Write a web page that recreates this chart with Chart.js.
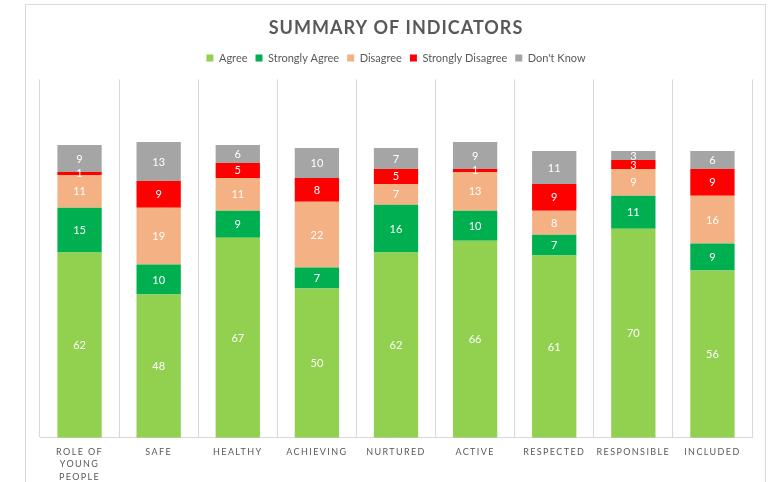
<!DOCTYPE html>
<html>
<head>
<meta charset="utf-8">
<script src="https://cdn.jsdelivr.net/npm/chart.js@4"></script>
<style>
  html, body { margin: 0; padding: 0; background: #ffffff; overflow: hidden; }
  #wrap { position: relative; width: 779px; height: 482px; overflow: hidden; }
  #frame { position: absolute; left: 25px; top: 4px; width: 739px; height: 500px; border: 1px solid #d9d9d9; pointer-events: none; }
  canvas { position: absolute; left: 0; top: 0; }
</style>
</head>
<body>
<div id="wrap">
  <canvas id="c" width="779" height="491"></canvas>
  <div id="frame"></div>
</div>
<script>
const categories = [["ROLE OF", "YOUNG", "PEOPLE"], "SAFE", "HEALTHY", "ACHIEVING", "NURTURED", "ACTIVE", "RESPECTED", "RESPONSIBLE", "INCLUDED"];
const agree            = [62, 48, 67, 50, 62, 66, 61, 70, 56];
const stronglyAgree    = [15, 10,  9,  7, 16, 10,  7, 11,  9];
const disagree         = [11, 19, 11, 22,  7, 13,  8,  9, 16];
const stronglyDisagree = [ 1,  9,  5,  8,  5,  1,  9,  3,  9];
const dontKnow         = [ 9, 13,  6, 10,  7,  9, 11,  3,  6];
const seriesNames = ["Agree", "Strongly Agree", "Disagree", "Strongly Disagree", "Don't Know"];
const seriesColors = ["#92D050", "#00B050", "#F4B183", "#FF0000", "#A5A5A5"];
const seriesValues = [agree, stronglyAgree, disagree, stronglyDisagree, dontKnow];

const FONT = "Lato";

const spacingPlugin = {
  id: 'spacing',
  beforeDraw(chart) {
    const xs = chart.scales.x;
    if (xs && !xs._patched) {
      const orig = xs.drawLabels;
      xs.drawLabels = function (area) {
        const c = this.ctx; c.save(); c.letterSpacing = '1.4px'; orig.call(this, area); c.restore();
      };
      xs._patched = true;
    }
    const t = chart.titleBlock;
    if (t && !t._patched) {
      const origT = t.draw;
      t.draw = function () {
        const c = this.ctx; c.save(); c.letterSpacing = '1.0px'; origT.call(this); c.restore();
      };
      t._patched = true;
    }
  }
};

const valueLabels = {
  id: 'valueLabels',
  afterDatasetsDraw(chart) {
    const ctx = chart.ctx;
    ctx.save();
    ctx.font = "11px " + FONT;
    ctx.fillStyle = "#ffffff";
    ctx.textAlign = "center";
    ctx.textBaseline = "middle";
    chart.data.datasets.forEach((ds, di) => {
      const meta = chart.getDatasetMeta(di);
      meta.data.forEach((bar, i) => {
        const v = ds.data[i];
        const p = bar.getProps(['x', 'y', 'base'], true);
        ctx.fillText(String(v), p.x, (p.y + p.base) / 2 + 0.5);
      });
    });
    ctx.restore();
  }
};

new Chart(document.getElementById('c'), {
  type: 'bar',
  data: {
    labels: categories,
    datasets: seriesNames.map((n, k) => ({
      label: n,
      data: seriesValues[k],
      backgroundColor: seriesColors[k],
      borderWidth: 0,
      barPercentage: 0.56,
      categoryPercentage: 1.0
    }))
  },
  options: {
    responsive: false,
    devicePixelRatio: 1,
    animation: false,
    layout: { padding: { left: 40, right: 27, top: 0, bottom: 0 } },
    plugins: {
      title: {
        display: true,
        text: "SUMMARY OF INDICATORS",
        color: "#595959",
        font: { family: FONT, size: 18, weight: "bold" },
        padding: { top: 17, bottom: 6 }
      },
      subtitle: {
        display: true,
        text: "",
        weight: 500,
        font: { size: 4.8 },
        padding: 0
      },
      legend: {
        display: true,
        position: 'top',
        labels: {
          color: "#595959",
          font: { family: FONT, size: 11 },
          boxWidth: 7,
          boxHeight: 7,
          padding: 8
        }
      },
      tooltip: { enabled: false }
    },
    scales: {
      x: {
        stacked: true,
        grid: { display: true, color: "#d9d9d9", drawTicks: false, offset: true },
        border: { display: true, color: "#d9d9d9" },
        ticks: {
          color: "#595959",
          font: { family: FONT, size: 9, lineHeight: 1.38 },
          padding: 8,
          maxRotation: 0,
          autoSkip: false
        }
      },
      y: {
        stacked: true,
        display: false,
        min: 0,
        max: 120
      }
    }
  },
  plugins: [spacingPlugin, valueLabels]
});
</script>
</body>
</html>
